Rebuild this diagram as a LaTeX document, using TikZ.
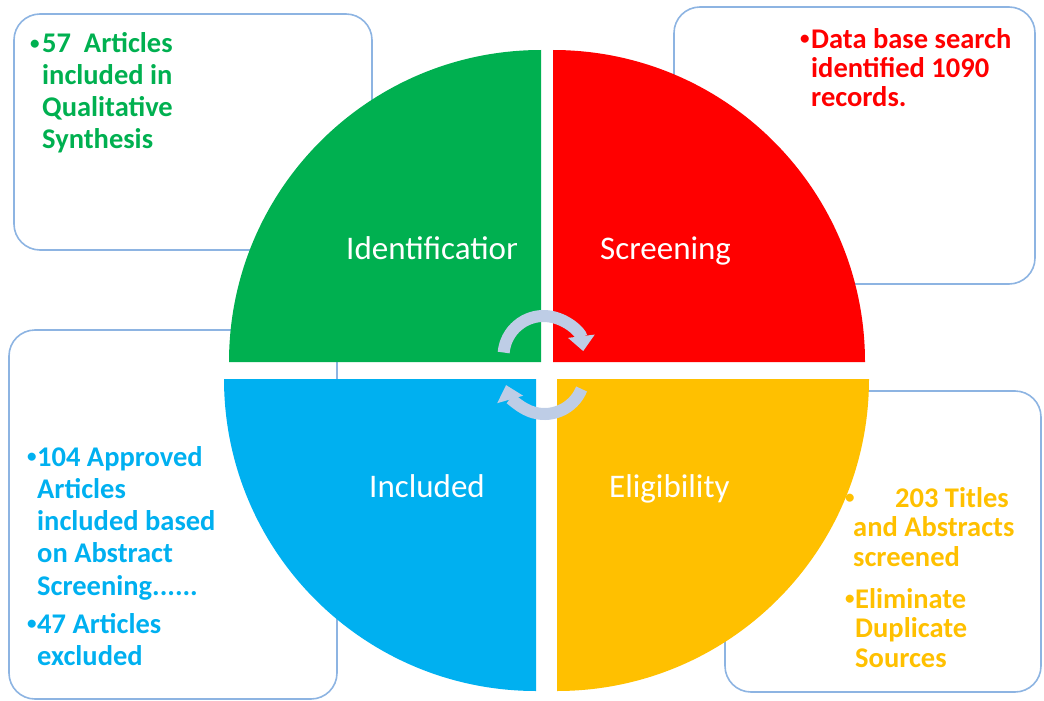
\documentclass[tikz,border=0pt]{standalone}
\usepackage{fontspec}
\setmainfont{Carlito}
\usepackage{tikz}
\usetikzlibrary{arrows.meta}
\definecolor{prgreen}{RGB}{0,176,80}
\definecolor{prred}{RGB}{255,0,0}
\definecolor{prblue}{RGB}{0,176,240}
\definecolor{pryellow}{RGB}{255,192,0}
\definecolor{boxline}{RGB}{141,180,226}
\definecolor{turngrey}{RGB}{190,205,230}
\newcommand{\bul}[1]{\makebox[#1][l]{\raisebox{3.5pt}{\fontsize{19}{19}\selectfont•}}}

\begin{document}
\begin{tikzpicture}[x=1pt,y=-1pt,
      notebox/.style={draw=boxline,line width=1.6pt,rounded corners=26pt},
      notetext/.style={anchor=base west,inner sep=0pt,align=left,font=\fontsize{28.5}{#1}\selectfont\bfseries},
      stage/.style={anchor=base west,inner sep=0pt,text=white,font=\fontsize{33}{36}\selectfont},
      turn/.style={line width=12pt,draw=turngrey,-{Triangle[width=26pt,length=15pt]}}
    ]
      \useasboundingbox (0,0) rectangle (1044,701);
      % side boxes, partly hidden by the circle
      \draw[notebox] (14,14) rectangle (372,250);
      \draw[notebox] (674,7) rectangle (1035,284);
      \draw[notebox] (9,330) rectangle (337,699);
      \draw[notebox] (725,391) rectangle (1041,692);
      % four quarters
      \fill[prgreen] (541,362) -- ++(-312,0) arc[start angle=180,end angle=270,radius=312] -- cycle;
      \fill[prred] (553,362) -- ++(0,-312) arc[start angle=270,end angle=360,radius=312] -- cycle;
      \fill[pryellow] (557,379) -- ++(312,0) arc[start angle=0,end angle=90,radius=312] -- cycle;
      \fill[prblue] (536,379) -- ++(0,312) arc[start angle=90,end angle=180,radius=312] -- cycle;
      % quarter labels
      \begin{scope}
        \clip (330,200) rectangle (516,300);
        \node[stage] (ident) at (346,259) {Identification};
      \end{scope}
      \begin{scope}
        \clip (590,200) rectangle (729,300);
        \node[stage] (screen) at (600,259) {Screening};
      \end{scope}
      \node[stage] (incl) at (369,497) {Included};
      \node[stage] (elig) at (609,497) {Eligibility};
      % cycle arrows
      \draw[turn] (543.5,356) ++(185:40) arc[start angle=185,end angle=353,radius=40];
      \draw[turn] (544.5,374) ++(22:40) arc[start angle=22,end angle=164,radius=40];
      % notes (placed by the baseline of their last line)
      \node[notetext=32,text=prgreen] (synth) at (30,148.5)
        {\bul{12pt}57\ \ Articles\\\hspace*{12pt}included in\\\hspace*{12pt}Qualitative\\\hspace*{12pt}Synthesis};
      \node[notetext=29.2,text=prred] (search) at (800,106.7)
        {\bul{11pt}Data base search\\\hspace*{11pt}identified 1090\\\hspace*{11pt}records.};
      \node[notetext=32.3,text=prblue] (approved) at (27,665.5)
        {\bul{10pt}104 Approved\\\hspace*{10pt}Articles\\\hspace*{10pt}included based\\\hspace*{10pt}on Abstract\\\hspace*{10pt}Screening......\\[5.7pt]\bul{10pt}47 Articles\\\hspace*{10pt}excluded};
      \node[notetext=29.7,text=pryellow] (titles) at (845,667.5)
        {\bul{50pt}203 Titles\\\hspace*{8pt}and Abstracts\\\hspace*{8pt}screened\\[12pt]\bul{10pt}Eliminate\\\hspace*{10pt}Duplicate\\\hspace*{10pt}Sources};
    \end{tikzpicture}
\end{document}
